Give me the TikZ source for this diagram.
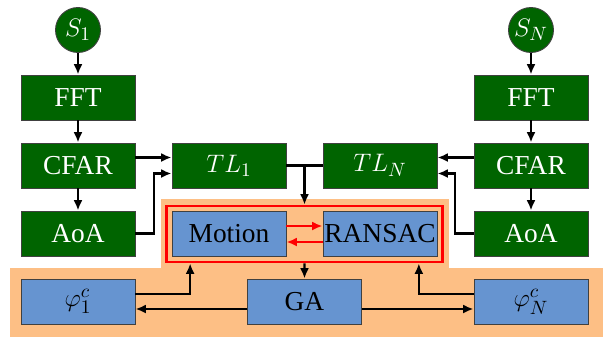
\documentclass[tikz,border=0pt]{standalone}
\usepackage{amsmath}
\usepackage{xcolor}
\usepackage{fontspec}
\setmainfont{Liberation Serif}
\usepackage{tikz}
\usetikzlibrary{arrows.meta,fit}

\definecolor{blockgreen}{RGB}{0,100,0}
\definecolor{blockblue}{RGB}{102,148,208}
\definecolor{zoneorange}{RGB}{253,191,133}

\tikzset{
  gblock/.style={draw=black!75, line width=0.5pt, fill=blockgreen, text=white,
    minimum width=2.28cm, minimum height=0.9cm, inner sep=0.5pt},
  bblock/.style={draw=black!75, line width=0.5pt, fill=blockblue, text=black,
    minimum width=2.28cm, minimum height=0.9cm, inner sep=0.5pt},
  source/.style={circle, draw=black!75, line width=0.5pt, fill=blockgreen, text=white,
    minimum size=0.9cm, inner sep=0pt},
  flow/.style={-{Latex[length=2.1mm,width=1.8mm]}, line width=1.3pt},
  loopflow/.style={flow, red}
}

\begin{document}
\begin{tikzpicture}[font=\fontsize{15.6}{18}\selectfont]
  \useasboundingbox (0,0) rectangle (12.06,6.74);
  % shaded zones
  \fill[zoneorange] (3.22,1.38) rectangle (8.98,2.76);
  \fill[zoneorange] (0.20,0) rectangle (12.06,1.38);
  % sensor chain 1
  \node[source] (s1) at (1.56,6.14) {$S_1$};
  \node[gblock] (fft1) at (1.56,4.79) {FFT};
  \node[gblock] (cfar1) at (1.56,3.43) {CFAR};
  \node[gblock] (aoa1) at (1.56,2.07) {AoA};
  % sensor chain N
  \node[source] (sN) at (10.62,6.14) {$S_N$};
  \node[gblock] (fftN) at (10.62,4.79) {FFT};
  \node[gblock] (cfarN) at (10.62,3.43) {CFAR};
  \node[gblock] (aoaN) at (10.62,2.07) {AoA};
  % track lists
  \node[gblock] (tl1) at (4.58,3.43) {$TL_1$};
  \node[gblock] (tlN) at (7.60,3.43) {$TL_N$};
  % estimation loop
  \node[bblock] (motion) at (4.58,2.06) {Motion};
  \node[bblock] (ransac) at (7.60,2.06) {RANSAC};
  \node[draw=red, line width=1.6pt, inner sep=0.1cm, fit=(motion)(ransac)] (loop) {};
  % calibration
  \node[bblock] (phi1) at (1.56,0.71) {$\varphi_1^c$};
  \node[bblock] (ga) at (6.09,0.71) {GA};
  \node[bblock] (phiN) at (10.62,0.71) {$\varphi_N^c$};

  \draw[flow] (s1) -- (fft1);
  \draw[flow] (fft1) -- (cfar1);
  \draw[flow] (cfar1) -- (aoa1);
  \draw[flow] (sN) -- (fftN);
  \draw[flow] (fftN) -- (cfarN);
  \draw[flow] (cfarN) -- (aoaN);
  \draw[flow] ([yshift=0.16cm]cfar1.east) -- ([yshift=0.16cm]tl1.west);
  \draw[flow] (aoa1.east) -- ++(0.37,0) |- ([yshift=-0.16cm]tl1.west);
  \draw[flow] ([yshift=0.16cm]cfarN.west) -- ([yshift=0.16cm]tlN.west -| tlN.east);
  \draw[flow] (aoaN.west) -- ++(-0.37,0) |- ([yshift=-0.16cm]tlN.east);
  % merge of the track lists
  \coordinate (merge) at (loop.north |- tl1.east);
  \draw[line width=1.3pt] (tl1.east) -- (tlN.west);
  \draw[flow] (merge) -- (loop.north);
  % motion <-> ransac
  \draw[loopflow] ([yshift=0.16cm]motion.east) -- ([yshift=0.16cm]ransac.west);
  \draw[loopflow] ([yshift=-0.16cm]ransac.west) -- ([yshift=-0.16cm]motion.east);
  % loop to GA and back
  \draw[flow] (loop.south) -- (ga.north);
  \draw[flow] ([yshift=0.15cm]phi1.east) -| ([xshift=0.5cm]loop.south west);
  \draw[flow] ([yshift=0.15cm]phiN.west) -| ([xshift=-0.5cm]loop.south east);
  \draw[flow] ([yshift=-0.15cm]ga.west) -- ([yshift=-0.15cm]phi1.east);
  \draw[flow] ([yshift=-0.15cm]ga.east) -- ([yshift=-0.15cm]phiN.west);
\end{tikzpicture}
\end{document}
